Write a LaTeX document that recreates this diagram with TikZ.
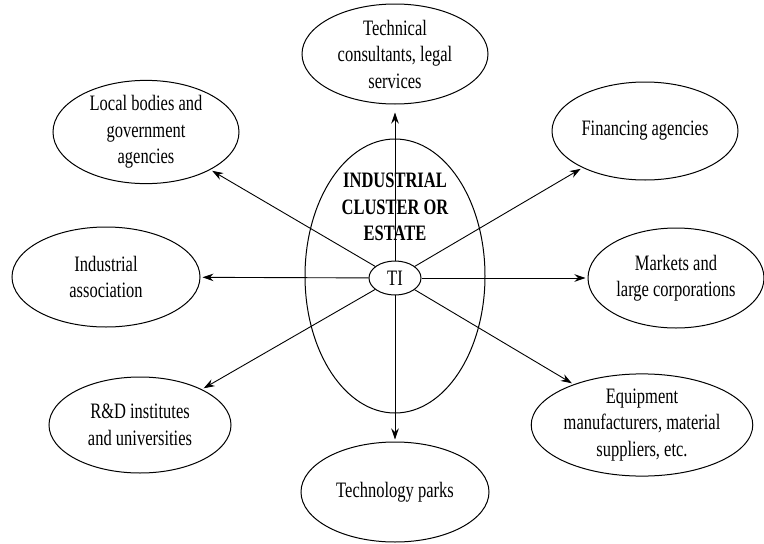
\documentclass[tikz,border=0pt]{standalone}
\usepackage{fontspec}
\setmainfont{Liberation Serif}[FakeStretch=0.75]
\usetikzlibrary{shapes.geometric,arrows.meta}
\begin{document}
\begin{tikzpicture}[x=1pt,y=-1pt,
  oval/.style={ellipse,draw,line width=1pt,inner sep=0pt,align=center,
    font=\fontsize{22}{26.5}\selectfont,minimum width=186pt,minimum height=100pt},
  arr/.style={draw,line width=0.9pt,-{Stealth[length=11pt,width=7.5pt]},shorten >=2pt}]
\useasboundingbox (0,0) rectangle (764,544);
\node[oval,minimum width=180pt,minimum height=274pt] (big) at (395,276) {};
\node[align=center,font=\fontsize{22}{26.5}\selectfont\bfseries] (title) at (395,207) {INDUSTRIAL\\CLUSTER OR\\ESTATE};
\node[oval] (tech) at (395,54) {Technical\\consultants, legal\\services};
\node[oval] (local) at (146,132) {Local bodies and\\government\\agencies};
\node[oval,minimum height=98pt] (fin) at (645,131) {Financing agencies};
\node[oval,minimum width=188pt] (assoc) at (106,277) {Industrial\\association};
\node[oval,minimum width=176pt] (mkt) at (676,278) {Markets and\\large corporations};
\node[oval,minimum width=182pt,minimum height=96pt] (rd) at (140,425) {R\&D institutes\\and universities};
\node[oval,minimum width=188pt] (equip) at (642,425) {Equipment\\manufacturers, material\\suppliers, etc.};
\node[oval,minimum width=188pt] (parks) at (395,492) {Technology parks};
\draw[arr,shorten >=8pt] (395,261) -- (tech);
\draw[arr] (395,295) -- (parks);
\node[oval,fill=white,minimum width=52pt,minimum height=34pt] (ti) at (395,278) {TI};
\foreach \t in {local,fin,assoc,mkt,rd,equip}
  \draw[arr] (ti) -- (\t);
\end{tikzpicture}
\end{document}
